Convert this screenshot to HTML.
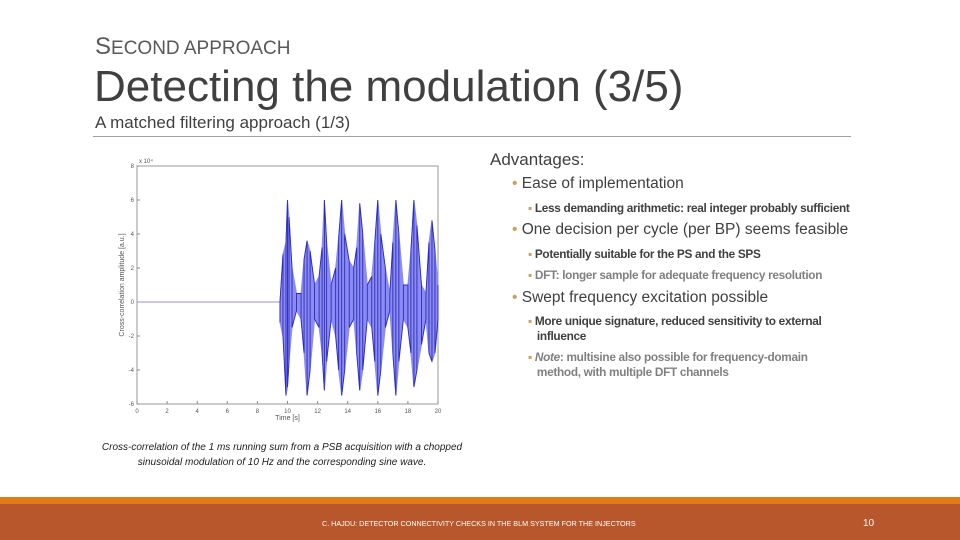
<!DOCTYPE html>
<html><head><meta charset="utf-8"><style>
body{margin:0;width:960px;height:540px;position:relative;background:#fff;font-family:"Liberation Sans",sans-serif;overflow:hidden;color:#404040}
.a{position:absolute;white-space:nowrap}
.b1{font-size:15.5px;color:#404040}
.b2{font-size:11.8px;font-weight:bold;color:#404040;letter-spacing:-0.3px}
.g{color:#808080}
.dot{color:#c8a060}
</style></head><body>
<div class="a" style="left:95px;top:33px;font-size:24px;color:#595959">S<span style="font-size:19px">ECOND APPROACH</span></div>
<div class="a" style="left:94px;top:62px;font-size:44px;color:#404040">Detecting the modulation (3/5)</div>
<div class="a" style="left:95px;top:113px;font-size:17px;color:#404040">A matched filtering approach (1/3)</div>
<div class="a" style="left:93px;top:136px;width:758px;height:1px;background:#a0a0a0"></div>

<svg class="a" style="left:0;top:0" width="960" height="540" id="chart"></svg>

<div class="a" style="left:490px;top:150px;font-size:17px">Advantages:</div>
<div class="a b1" style="left:512px;top:175px"><span class="dot">•</span> Ease of implementation</div>
<div class="a b2" style="left:528px;top:201px"><span class="dot">▪</span> Less demanding arithmetic: real integer probably sufficient</div>
<div class="a b1" style="left:512px;top:221px"><span class="dot">•</span> One decision per cycle (per BP) seems feasible</div>
<div class="a b2" style="left:528px;top:247px"><span class="dot">▪</span> Potentially suitable for the PS and the SPS</div>
<div class="a b2 g" style="left:528px;top:268px"><span class="dot">▪</span> DFT: longer sample for adequate frequency resolution</div>
<div class="a b1" style="left:512px;top:289px"><span class="dot">•</span> Swept frequency excitation possible</div>
<div class="a b2" style="left:528px;top:314px;line-height:15px"><span class="dot">▪</span> More unique signature, reduced sensitivity to external<br>&nbsp;&nbsp;&nbsp;influence</div>
<div class="a b2 g" style="left:528px;top:350px;line-height:15px"><span class="dot">▪</span> <i>Note</i>: multisine also possible for frequency-domain<br>&nbsp;&nbsp;&nbsp;method, with multiple DFT channels</div>

<div class="a" style="left:97px;top:440px;width:370px;text-align:center;font-size:10px;font-style:italic;line-height:15px;color:#202020;white-space:normal">Cross-correlation of the 1 ms running sum from a PSB acquisition with a chopped sinusoidal modulation of 10 Hz and the corresponding sine wave.</div>

<div class="a" style="left:0;top:497px;width:960px;height:7px;background:#e07b1a"></div>
<div class="a" style="left:0;top:504px;width:960px;height:36px;background:#b9572c"></div>
<div class="a" style="left:322px;top:519px;font-size:7.2px;color:#fff">C. HAJDU: DETECTOR CONNECTIVITY CHECKS IN THE BLM SYSTEM FOR THE INJECTORS</div>
<div class="a" style="left:863px;top:518px;font-size:10px;color:#fff">10</div>

<script>
const xTicks=[0,2,4,6,8,10,12,14,16,18,20];
const yTicks=[-6,-4,-2,0,2,4,6,8];
const times=[9.5,9.7,9.9,10.0,10.1,10.3,10.6,10.9,11.1,11.3,11.5,11.8,12.1,12.3,12.45,12.6,12.9,13.2,13.4,13.6,13.8,14.1,14.4,14.6,14.8,15.0,15.3,15.6,15.8,16.0,16.2,16.5,16.8,17.0,17.2,17.4,17.7,18.0,18.2,18.4,18.6,18.9,19.2,19.4,19.6,19.8,20.0];
const upper=[0,2.8,3.5,6,5,2,0.5,0.5,2.5,3.6,3,1,1.5,3.2,6,3.5,1,2,3.8,6,4,2.4,2,3.2,5.8,4,1,1.5,3.5,6,4,2,0.5,3.5,6,4,1,1,3,6,4.5,1,0.5,3.5,4.8,3,1];
const lower=[-1.2,-2,-5.5,-5,-3.5,-1.5,-0.5,-1,-3,-5.5,-4,-1,-1.5,-3,-5.2,-3.5,-1,-2,-4,-5.5,-4,-1.5,-1,-3,-5.2,-4,-1,-1.5,-3.5,-5.5,-4,-1.5,-0.5,-3,-5.5,-3.5,-1,-1.5,-3,-5,-4,-2.5,-1,-3,-3.5,-3,-1];
const svg=document.getElementById('chart');
const NS='http://www.w3.org/2000/svg';
const X0=137,X1=438,Y8=166,Ym6=404;
const sx=t=>X0+(t-0)/(20-0)*(X1-X0);
const sy=v=>Ym6-(v+6)/(14)*(Ym6-Y8);
function mk(tag,attrs){const e=document.createElementNS(NS,tag);for(const k in attrs)e.setAttribute(k,attrs[k]);svg.appendChild(e);return e;}
const frame=mk('rect',{x:X0,y:Y8,width:X1-X0,height:Ym6-Y8,fill:'none',stroke:'#999','stroke-width':1});


xTicks.forEach(t=>{
  const l=mk('line',{x1:sx(t),x2:sx(t),y1:Ym6,y2:Ym6-3,stroke:'#888'});
  
  
  const tx=mk('text',{x:sx(t),y:Ym6+9,'font-size':6,'text-anchor':'middle',fill:'#555'});tx.textContent=t;
  
  
});
yTicks.forEach(v=>{
  const l=mk('line',{x1:X0,x2:X0+3,y1:sy(v),y2:sy(v),stroke:'#888'});
  
  
  const tx=mk('text',{x:X0-3,y:sy(v)+2,'font-size':6,'text-anchor':'end',fill:'#555'});tx.textContent=v;
  
  
});
const ex=mk('text',{x:X0+2,y:Y8-3,'font-size':6,fill:'#555'});ex.textContent='x 10⁴';


const xt=mk('text',{x:(X0+X1)/2,y:Ym6+16,'font-size':7,'text-anchor':'middle',fill:'#555'});xt.textContent='Time [s]';


const yt=mk('text',{x:124,y:(Y8+Ym6)/2,'font-size':7,'text-anchor':'middle',fill:'#555',transform:`rotate(-90 124 ${(Y8+Ym6)/2})`});yt.textContent='Cross-correlation amplitude [a.u.]';


const base=mk('line',{x1:sx(0),x2:sx(times[0]),y1:sy(0),y2:sy(0),stroke:'#9090e0','stroke-width':1});


let pts=times.map((t,i)=>sx(t)+','+sy(upper[i]));
pts=pts.concat(times.map((t,i)=>sx(t)+','+sy(lower[i])).reverse());
const env=mk('polygon',{points:pts.join(' '),fill:'#8c8cf0',stroke:'#8c8cf0','stroke-width':1});


const zz=times.map((t,i)=>sx(t)+','+sy(i%2?upper[i]:lower[i])+' '+sx(t)+','+sy(i%2?lower[i]:upper[i])).join(' ');
const line=mk('polyline',{points:zz,fill:'none',stroke:'#2a2ac0','stroke-width':0.9});


</script>
</body></html>
